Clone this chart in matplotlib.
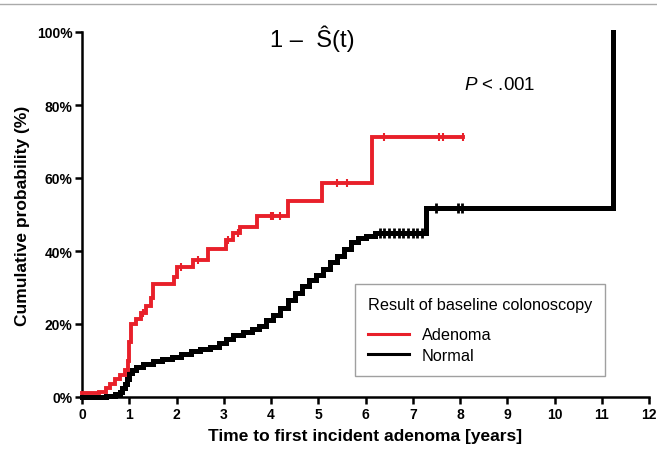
import matplotlib
matplotlib.use("Agg")
import matplotlib.pyplot as plt
from matplotlib.lines import Line2D

plt.rcParams['font.family'] = ['Liberation Sans', 'DejaVu Sans']
plt.rcParams['mathtext.fontset'] = 'custom'
plt.rcParams['mathtext.rm'] = 'Liberation Sans'
plt.rcParams['mathtext.it'] = 'Liberation Sans:italic'

# Adenoma group (red): step times (years) and cumulative probability (%)
adenoma_t = [0, 0.35, 0.5, 0.6, 0.7, 0.8, 0.9, 0.97, 1.0, 1.03, 1.15, 1.25, 1.35, 1.45,
             1.5, 1.95, 2.0, 2.35, 2.67, 3.05, 3.2, 3.35, 3.7, 4.37, 5.08, 6.14, 8.06]
adenoma_p = [1, 1.5, 2.5, 3.5, 5, 6, 7.5, 10, 15, 20, 21.5, 23, 25, 27,
             31, 33, 35.5, 37.5, 40.5, 43, 45, 46.5, 49.5, 53.8, 58.5, 71.3, 71.3]
adenoma_cens_t = [1.3, 2.1, 2.45, 3.1, 3.3, 4.0, 4.05, 4.2, 5.4, 5.6, 6.4, 7.55, 7.65, 8.06]

# Normal group (black)
normal_t = [0, 0.5, 0.7, 0.8, 0.85, 0.9, 0.95, 1.0, 1.05, 1.15, 1.3, 1.5, 1.7, 1.9, 2.1,
            2.3, 2.5, 2.7, 2.9, 3.05, 3.2, 3.4, 3.6, 3.75, 3.9, 4.05, 4.2, 4.35, 4.5,
            4.65, 4.8, 4.95, 5.1, 5.25, 5.4, 5.55, 5.7, 5.85, 6.0, 6.2, 7.27, 11.24, 11.24]
normal_p = [0, 0.3, 0.8, 1.5, 2.5, 3.5, 5, 6.5, 7.5, 8.3, 9, 9.8, 10.3, 11, 11.8,
            12.5, 13.2, 13.8, 14.8, 15.8, 17, 17.8, 18.5, 19.5, 21, 22.5, 24.5, 26.5, 28.5,
            30.5, 32, 33.5, 35, 37, 38.5, 40.5, 42.5, 43.5, 44, 44.8, 51.8, 51.8, 100]
normal_cens_t = [6.3, 6.4, 6.5, 6.6, 6.7, 6.8, 6.9, 7.0, 7.1, 7.2, 7.5, 7.95, 8.05]

x_ticks = list(range(0, 13))
y_ticks = [0, 20, 40, 60, 80, 100]
y_ticklabels = ['0%', '20%', '40%', '60%', '80%', '100%']


def step_value(ts, ps, t):
    v = ps[0]
    for ti, pi in zip(ts, ps):
        if ti <= t:
            v = pi
    return v


fig = plt.figure(figsize=(6.57, 4.52), dpi=100)
ax = fig.add_axes([82 / 657, 1 - 398 / 452, 567 / 657, 365 / 452])

red = '#e8202a'
ax.step(adenoma_t, adenoma_p, where='post', color=red, lw=2.8, label='Adenoma',
        solid_joinstyle='miter', zorder=3)
ax.step(normal_t, normal_p, where='post', color='black', lw=3.6, label='Normal',
        solid_joinstyle='miter', zorder=2)

ax.plot(adenoma_cens_t, [step_value(adenoma_t, adenoma_p, t) for t in adenoma_cens_t],
        ls='none', marker='|', ms=6, mew=1.5, color=red, zorder=4)
ax.plot(normal_cens_t, [step_value(normal_t, normal_p, t) for t in normal_cens_t],
        ls='none', marker='|', ms=7, mew=2, color='black', zorder=4)

ax.set_xlim(0, 12)
ax.set_ylim(0, 100)
ax.set_xticks(x_ticks)
ax.set_yticks(y_ticks)
ax.set_yticklabels(y_ticklabels)
for lbl in ax.get_xticklabels() + ax.get_yticklabels():
    lbl.set_fontweight('bold')
    lbl.set_fontsize(10)
ax.tick_params(direction='out', length=5, width=1.8, pad=2, colors='black')
ax.spines['top'].set_visible(False)
ax.spines['right'].set_visible(False)
ax.spines['left'].set_linewidth(1.8)
ax.spines['bottom'].set_linewidth(1.8)
for ln in ax.lines:
    ln.set_clip_on(False)

ax.set_xlabel('Time to first incident adenoma [years]', fontsize=12.5, fontweight='bold', labelpad=5)
ax.set_ylabel('Cumulative probability (%)', fontsize=12.5, fontweight='bold', labelpad=5)

ax.text(0.406, 0.985, '1 \u2013  \u015C(t)', transform=ax.transAxes, fontsize=17,
        ha='center', va='center')
ax.text(0.737, 0.855, r'$\mathit{P}$ < .001', transform=ax.transAxes, fontsize=13.5,
        ha='center', va='center')

leg = ax.legend(title='Result of baseline colonoscopy', loc='lower left',
                bbox_to_anchor=(0.4815, 0.0575), borderaxespad=0, frameon=True,
                fancybox=False, fontsize=11.7, title_fontsize=11.7, handlelength=2.5,
                borderpad=0.8, labelspacing=0.35, handletextpad=0.8)
leg._legend_box.align = 'left'
leg._legend_box.sep = 11
leg.get_frame().set_edgecolor('#888888')
leg.get_frame().set_linewidth(1.0)
for h in leg.legend_handles:
    h.set_linewidth(2.2)

fig.add_artist(Line2D([0, 1], [1 - 5 / 452, 1 - 5 / 452], transform=fig.transFigure,
                      color='#aaaaaa', lw=1))

fig.savefig('out.png', dpi=100)
